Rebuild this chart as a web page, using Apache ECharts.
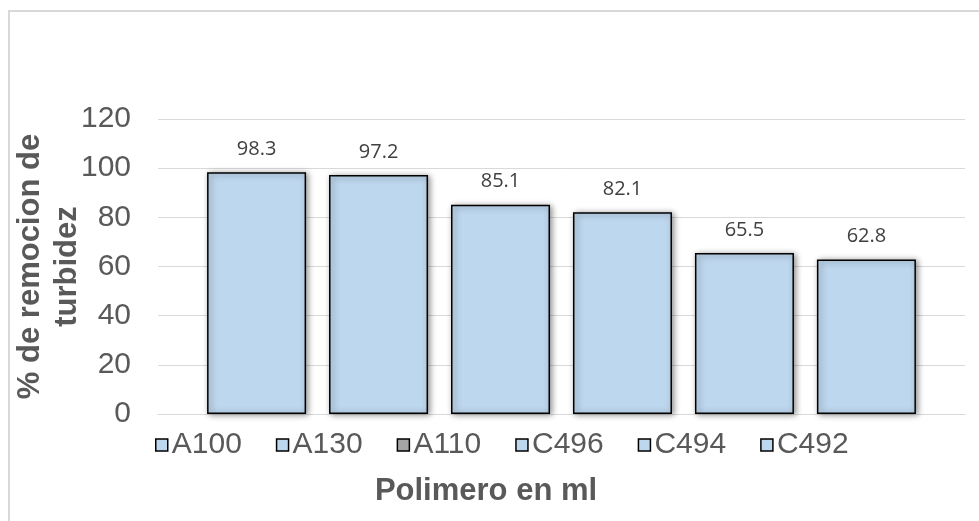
<!DOCTYPE html>
<html>
<head>
<meta charset="utf-8">
<style>
  html, body { margin: 0; padding: 0; background: #ffffff; }
  #chart { width: 979px; height: 521px; }
</style>
<script src="https://cdn.jsdelivr.net/npm/echarts@6/dist/echarts.min.js"></script>
</head>
<body>
<div id="chart"></div>
<script>
// Polymer names and the turbidity removal (%) achieved by each
const polymers = ['A100', 'A130', 'A110', 'C496', 'C494', 'C492'];
const removal = [98.3, 97.2, 85.1, 82.1, 65.5, 62.8];
// Legend swatch colours per polymer (A110 keeps a grey swatch)
const swatchColors = ['#BDD7EE', '#BDD7EE', '#A5A5A5', '#BDD7EE', '#BDD7EE', '#BDD7EE'];
const barFill = '#BDD7EE';
const yTicks = { min: 0, max: 120, interval: 20 };

const chart = echarts.init(document.getElementById('chart'), null, { renderer: 'canvas' });

const series = polymers.map((name, i) => ({
  name: name,
  type: 'bar',
  barWidth: 99,
  barGap: '23.2%',
  data: [{ value: removal[i], itemStyle: { color: barFill } }],
  itemStyle: {
    color: swatchColors[i],
    borderColor: '#000000',
    borderWidth: 1.5,
    shadowColor: 'rgba(0,0,0,0.45)',
    shadowBlur: 6,
    shadowOffsetX: 2,
    shadowOffsetY: 1
  },
  label: {
    show: true,
    position: 'top',
    distance: 13,
    formatter: p => p.value.toFixed(1),
    fontFamily: 'Open Sans',
    fontSize: 20,
    color: '#404040'
  },
  emphasis: { disabled: true }
}));

chart.setOption({
  animation: false,
  backgroundColor: '#ffffff',
  grid: { left: 158, right: 14, top: 119, bottom: 107, containLabel: false, outerBoundsMode: 'none' },
  legend: {
    data: polymers,
    left: 150,
    top: 425,
    icon: 'rect',
    itemWidth: 12,
    itemHeight: 12,
    itemGap: 34,
    itemStyle: { borderColor: '#000000', borderWidth: 1.5, shadowBlur: 0, shadowOffsetX: 0, shadowOffsetY: 0 },
    textStyle: { fontFamily: 'Liberation Sans', fontSize: 30, color: '#595959', padding: [0, 0, 0, -1] },
    selectedMode: false
  },
  xAxis: {
    type: 'category',
    data: [''],
    axisLine: { show: true, lineStyle: { color: '#D9D9D9', width: 1 } },
    axisTick: { show: false },
    axisLabel: { show: false },
    splitLine: { show: false }
  },
  yAxis: {
    type: 'value',
    min: yTicks.min,
    max: yTicks.max,
    interval: yTicks.interval,
    name: '% de remocion de\nturbidez',
    nameLocation: 'middle',
    nameRotate: 90,
    nameGap: 72,
    nameMoveOverlap: false,
    nameTextStyle: {
      fontFamily: 'Liberation Sans',
      fontSize: 31,
      fontWeight: 'bold',
      color: '#595959',
      lineHeight: 37,
      align: 'center'
    },
    axisLine: { show: false },
    axisTick: { show: false },
    axisLabel: {
      fontFamily: 'Liberation Sans',
      fontSize: 30,
      color: '#595959',
      margin: 27
    },
    splitLine: { lineStyle: { color: '#D9D9D9', width: 1 } }
  },
  graphic: [
    {
      type: 'rect',
      silent: true,
      shape: { x: 9, y: 11, width: 1000, height: 600 },
      style: { fill: null, stroke: '#D9D9D9', lineWidth: 2 }
    },
    {
      type: 'text',
      silent: true,
      x: 486,
      y: 491,
      style: {
        text: 'Polimero en ml',
        fontFamily: 'Liberation Sans',
        fontSize: 31,
        fontWeight: 'bold',
        fill: '#595959',
        align: 'center',
        verticalAlign: 'middle'
      }
    }
  ],
  series: series
});
</script>
</body>
</html>
